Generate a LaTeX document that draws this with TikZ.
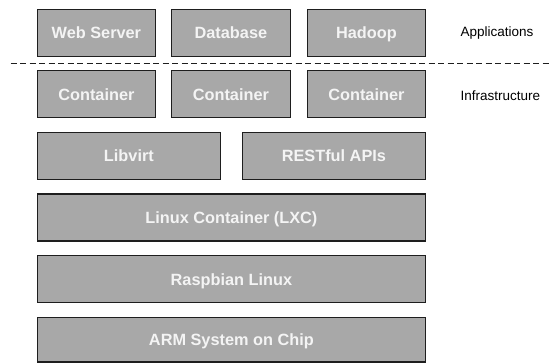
\documentclass[tikz,border=0pt]{standalone}
\usepackage{fontspec}
\setmainfont{Liberation Sans}
\definecolor{boxgray}{HTML}{A8A8A8}
\definecolor{edgegray}{HTML}{1E1E1E}
\definecolor{txt}{HTML}{F4F4F4}
\begin{document}
\begin{tikzpicture}[x=1pt,y=1pt,
  blk/.style={draw=edgegray, line width=1.3pt, fill=boxgray, text=txt,
    font=\bfseries\fontsize{16.3}{19}\selectfont, inner sep=0pt,
    text height=11.7pt, text depth=0pt,
    anchor=north west, minimum height=47pt},
  small/.style={blk, minimum width=118.5pt},
  half/.style={blk, minimum width=183.5pt},
  full/.style={blk, minimum width=388.5pt},
  side/.style={anchor=west, inner sep=0pt, text height=9.7pt, text depth=0pt,
    font=\fontsize{13.5}{16}\selectfont, text=black}]
\useasboundingbox (0,0) rectangle (549,-362);
\node[small] (web) at (36.5,-8.5) {Web Server};
\node[small] (db) at (171,-8.5) {Database};
\node[small] (hd) at (306.5,-8.5) {Hadoop};
\node[side] (apps) at (460.5,-31.5) {Applications};
\coordinate (dl) at (10.5,-63.5);
\coordinate (dr) at (549,-63.5);
\draw[line width=1.2pt, draw=edgegray, dash pattern=on 6pt off 3.5pt] (dl) -- (dr);
\node[small] (c1) at (36.5,-70) {Container};
\node[small] (c2) at (171,-70) {Container};
\node[small] (c3) at (306.5,-70) {Container};
\node[side] (infra) at (460.5,-95.5) {Infrastructure};
\node[half] (lv) at (36.5,-131.7) {Libvirt};
\node[half] (rest) at (241.5,-131.7) {RESTful APIs};
\node[full] (lxc) at (36.5,-193.3) {Linux Container (LXC)};
\node[full] (rasp) at (36.5,-255) {Raspbian Linux};
\node[full, minimum height=44.5pt] (arm) at (36.5,-316.7) {ARM System on Chip};
\end{tikzpicture}
\end{document}
